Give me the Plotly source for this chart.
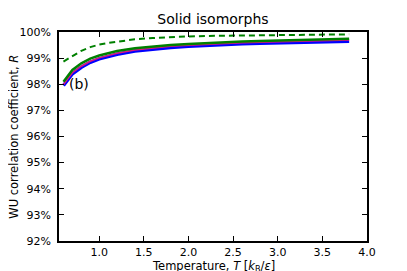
import plotly.graph_objects as go

T = [0.6, 0.7, 0.8, 0.9, 1.0, 1.1, 1.2, 1.4, 1.6, 1.8, 2.0, 2.2, 2.4, 2.6, 2.8, 3.0, 3.2, 3.4, 3.6, 3.8]
R_blue = [97.95, 98.40, 98.65, 98.84, 98.97, 99.07, 99.15, 99.27, 99.35, 99.41, 99.45, 99.49, 99.52, 99.55, 99.57, 99.59, 99.61, 99.62, 99.64, 99.65]
R_magenta = [97.99, 98.44, 98.69, 98.88, 99.01, 99.11, 99.19, 99.31, 99.39, 99.45, 99.49, 99.53, 99.56, 99.59, 99.61, 99.63, 99.65, 99.66, 99.68, 99.69]
R_green = [98.10, 98.55, 98.80, 98.98, 99.10, 99.19, 99.27, 99.38, 99.45, 99.50, 99.54, 99.58, 99.61, 99.64, 99.66, 99.68, 99.70, 99.71, 99.73, 99.74]
R_dashed = [98.87, 99.08, 99.28, 99.42, 99.52, 99.58, 99.63, 99.72, 99.77, 99.81, 99.83, 99.85, 99.86, 99.87, 99.88, 99.89, 99.90, 99.90, 99.91, 99.91]

y_ticks = [92, 93, 94, 95, 96, 97, 98, 99, 100]
y_tick_labels = [f"{v}%" for v in y_ticks]
x_ticks = [1.0, 1.5, 2.0, 2.5, 3.0, 3.5, 4.0]
x_tick_labels = ["1.0", "1.5", "2.0", "2.5", "3.0", "3.5", "4.0"]

fig = go.Figure()
fig.add_trace(go.Scatter(x=T, y=R_blue, mode="lines", line=dict(color="#0000ff", width=3.5)))
fig.add_trace(go.Scatter(x=T, y=R_magenta, mode="lines", line=dict(color="#e0177a", width=1.5)))
fig.add_trace(go.Scatter(x=T, y=R_green, mode="lines", line=dict(color="#008000", width=2.5)))
fig.add_trace(go.Scatter(x=T, y=R_dashed, mode="lines", line=dict(color="#008000", width=2, dash="6px,4px")))

font_family = "DejaVu Sans"
# page body has an 8px default margin, so the figure is sized/offset to compensate
fig.update_layout(
    width=399, height=263,
    margin=dict(l=43, r=40, t=24, b=30),
    paper_bgcolor="white", plot_bgcolor="white",
    showlegend=False,
    font=dict(family=font_family, size=11, color="black"),
    title=dict(text="Solid isomorphs", x=0.5, xref="paper", xanchor="center",
               yref="container", y=1 - 11 / 263, yanchor="middle",
               font=dict(size=14, family=font_family)),
)
fig.update_xaxes(range=[0.55, 4.0], tickmode="array", tickvals=x_ticks, ticktext=x_tick_labels,
                 ticks="inside", ticklen=5, tickwidth=1.2, tickcolor="black",
                 showline=True, linecolor="black", linewidth=1.5, mirror="ticks",
                 showgrid=False, zeroline=False, tickfont=dict(size=11))
fig.update_yaxes(range=[92, 100], tickmode="array", tickvals=y_ticks, ticktext=y_tick_labels,
                 ticks="inside", ticklen=5, tickwidth=1.2, tickcolor="black",
                 showline=True, linecolor="black", linewidth=1.5, mirror="ticks",
                 showgrid=False, zeroline=False, tickfont=dict(size=11),
                 ticklabelstandoff=4)

fig.add_annotation(text="WU correlation coefficient, <i>R</i>", textangle=-90,
                   xref="paper", yref="paper", x=-47 / 316, y=0.5,
                   xanchor="center", yanchor="middle", showarrow=False,
                   font=dict(size=11.5, family=font_family))
fig.add_annotation(text="Temperature, <i>T</i> [<i>k</i><sub>B</sub>/<i>ε</i>]",
                   xref="paper", yref="paper", x=0.5, y=-25 / 209,
                   xanchor="center", yanchor="middle", showarrow=False,
                   font=dict(size=11.5, family=font_family))
fig.add_annotation(text="(b)", xref="x", yref="y", x=0.77, y=98.02,
                   xanchor="center", yanchor="middle", showarrow=False,
                   font=dict(size=14, family=font_family))

fig.write_html("out.html")
